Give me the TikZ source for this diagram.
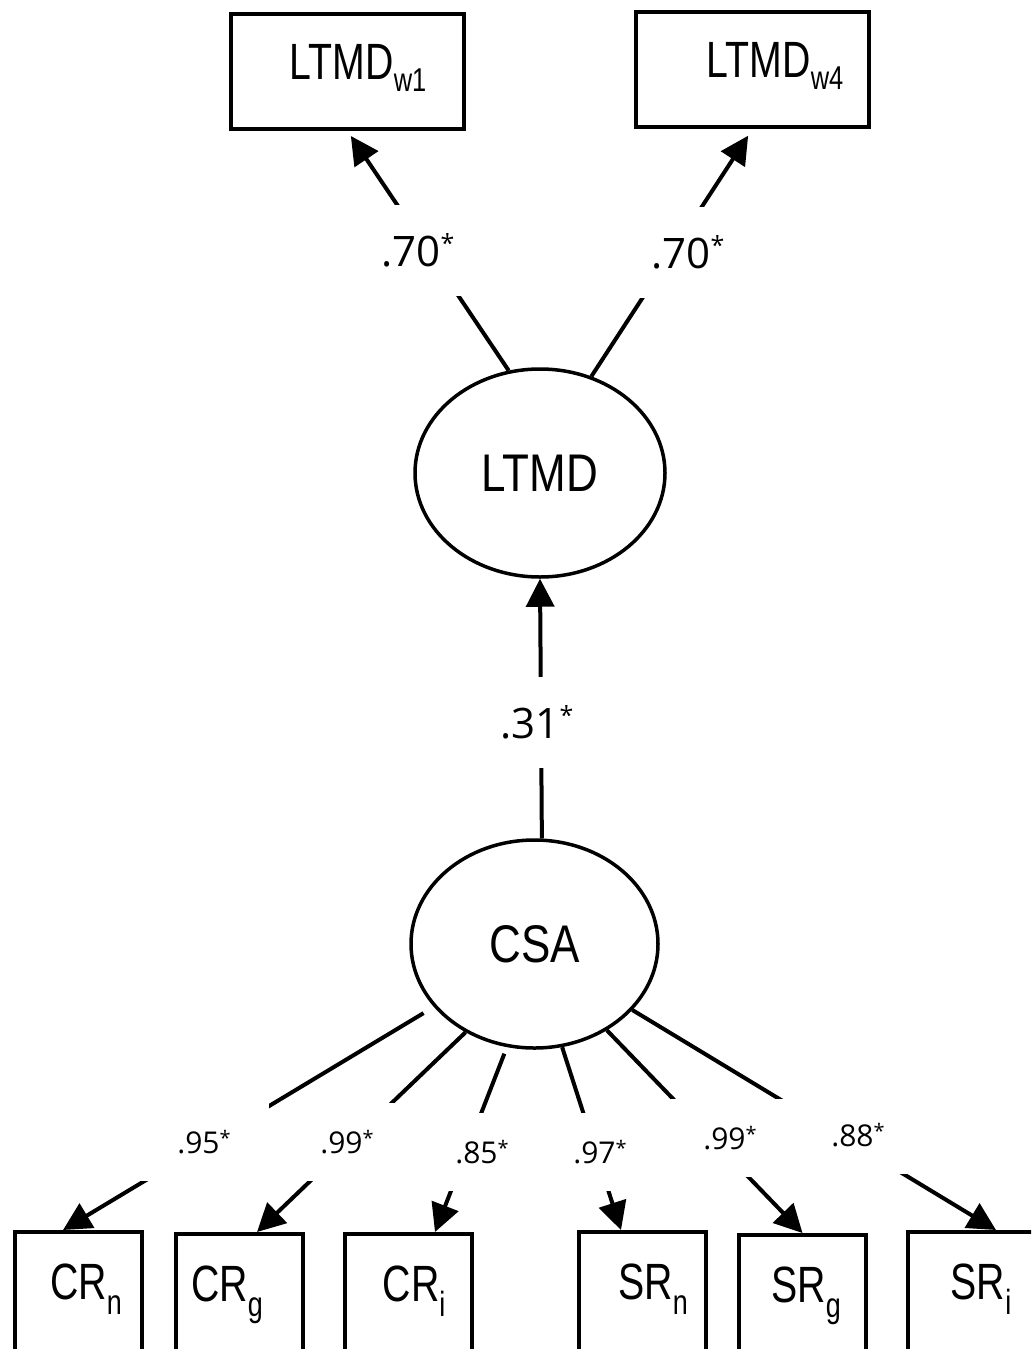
\documentclass[tikz,border=0pt]{standalone}
\usepackage{fontspec}
\setmainfont{Liberation Sans}
\newfontfamily\boxfont{Liberation Sans}[FakeStretch=0.77]
\newfontfamily\latfont{Liberation Sans}[FakeStretch=0.83]
\newfontfamily\labfont{Open Sans}
\usetikzlibrary{arrows.meta,shapes.geometric}
\newcommand\sbs[1]{\raisebox{-12pt}{\fontsize{33}{33}\selectfont #1\vphantom{g1}}}
\newcommand\sbb[1]{\raisebox{-15pt}{\fontsize{35}{35}\selectfont #1\vphantom{g1}}}
\newcommand\bigst{\raisebox{14pt}{\fontsize{25}{25}\selectfont *}}
\newcommand\smst{\raisebox{8pt}{\fontsize{20}{20}\selectfont *}}
\begin{document}
\begin{tikzpicture}[x=1pt,y=-1pt,
  lat/.style={ellipse, draw, line width=3.5pt, inner sep=0pt, font=\latfont\fontsize{53}{53}\selectfont},
  obs/.style={rectangle, draw, line width=4pt, inner sep=0pt, font=\boxfont\fontsize{51}{51}\selectfont},
  topbox/.style={obs, minimum width=233pt, minimum height=115pt},
  botbox/.style={obs, minimum width=127pt, minimum height=122pt},
  conn/.style={line width=4pt, -{Triangle[length=28pt,width=28pt]}},
  biglab/.style={fill=white, inner sep=0pt, minimum width=100pt, minimum height=91pt, font=\labfont\fontsize{42}{42}\selectfont},
  smalllab/.style={fill=white, inner sep=0pt, minimum width=130pt, minimum height=78pt, font=\labfont\fontsize{30}{30}\selectfont}]
\useasboundingbox (0,0) rectangle (1031,1349);
\fill[white] (0,0) rectangle (1031,1349);
\clip (0,0) rectangle (1031,1349);
% observed indicators (top)
\node[topbox] (w1) at (347.5,71.5) {\hspace*{21pt}LTMD\sbs{w1}};
\node[topbox] (w4) at (752.5,69.5) {\hspace*{45pt}LTMD\sbs{w4}};
% latent variables
\node[lat, minimum width=250pt, minimum height=208pt] (ltmd) at (540,473) {LTMD};
\node[lat, minimum width=247pt, minimum height=208pt] (csa) at (534.5,944) {CSA};
% observed indicators (bottom)
\node[botbox] (crn) at (78.5,1293) {\hspace*{15pt}CR\sbb{n}};
\node[botbox] (crg) at (239.5,1295) {CR\sbb{g}\hspace*{25pt}};
\node[botbox] (cri) at (408.5,1295) {\hspace*{11pt}CR\sbb{i}};
\node[botbox] (srn) at (642,1293) {\hspace*{22pt}SR\sbb{n}};
\node[botbox] (srg) at (802.5,1296) {\hspace*{7pt}SR\sbb{g}};
\node[botbox] (sri) at (971.5,1293) {\hspace*{19pt}SR\sbb{i}};
% connectors
\draw[conn, shorten >=6pt] (ltmd.107.8) -- (w1.south);
\draw[conn, shorten >=8pt] (ltmd.62.7) -- (w4.south);
\draw[conn] (csa.86.5) -- (ltmd.south);
\draw[conn, shorten <=12pt] (csa.212.9) -- ([xshift=-15.5pt]crn.north);
\draw[conn] (csa.232.2) -- ([xshift=17.5pt]crg.north);
\draw[conn, shorten <=7pt] (csa.255.6) -- ([xshift=26.5pt]cri.north);
\draw[conn] (csa.285.3) -- ([xshift=-21pt]srn.north);
\draw[conn] (csa.310.3) -- (srg.north);
\draw[conn] (csa.326.2) -- ([xshift=24.5pt]sri.north);
% coefficient labels
\node[biglab] (l1) at (418,250) {.70\bigst};
\node[biglab] (l2) at (688,252) {.70\bigst};
\node[biglab] (l3) at (537,722) {.31\bigst};
\node[smalllab] (l4) at (204,1142) {.95\smst};
\node[smalllab] (l5) at (347,1142) {.99\smst};
\node[smalllab] (l6) at (482,1152) {.85\smst};
\node[smalllab] (l7) at (600,1152) {.97\smst};
\node[smalllab] (l8) at (730,1138) {.99\smst};
\node[smalllab] (l9) at (858,1135) {.88\smst};
\end{tikzpicture}
\end{document}
